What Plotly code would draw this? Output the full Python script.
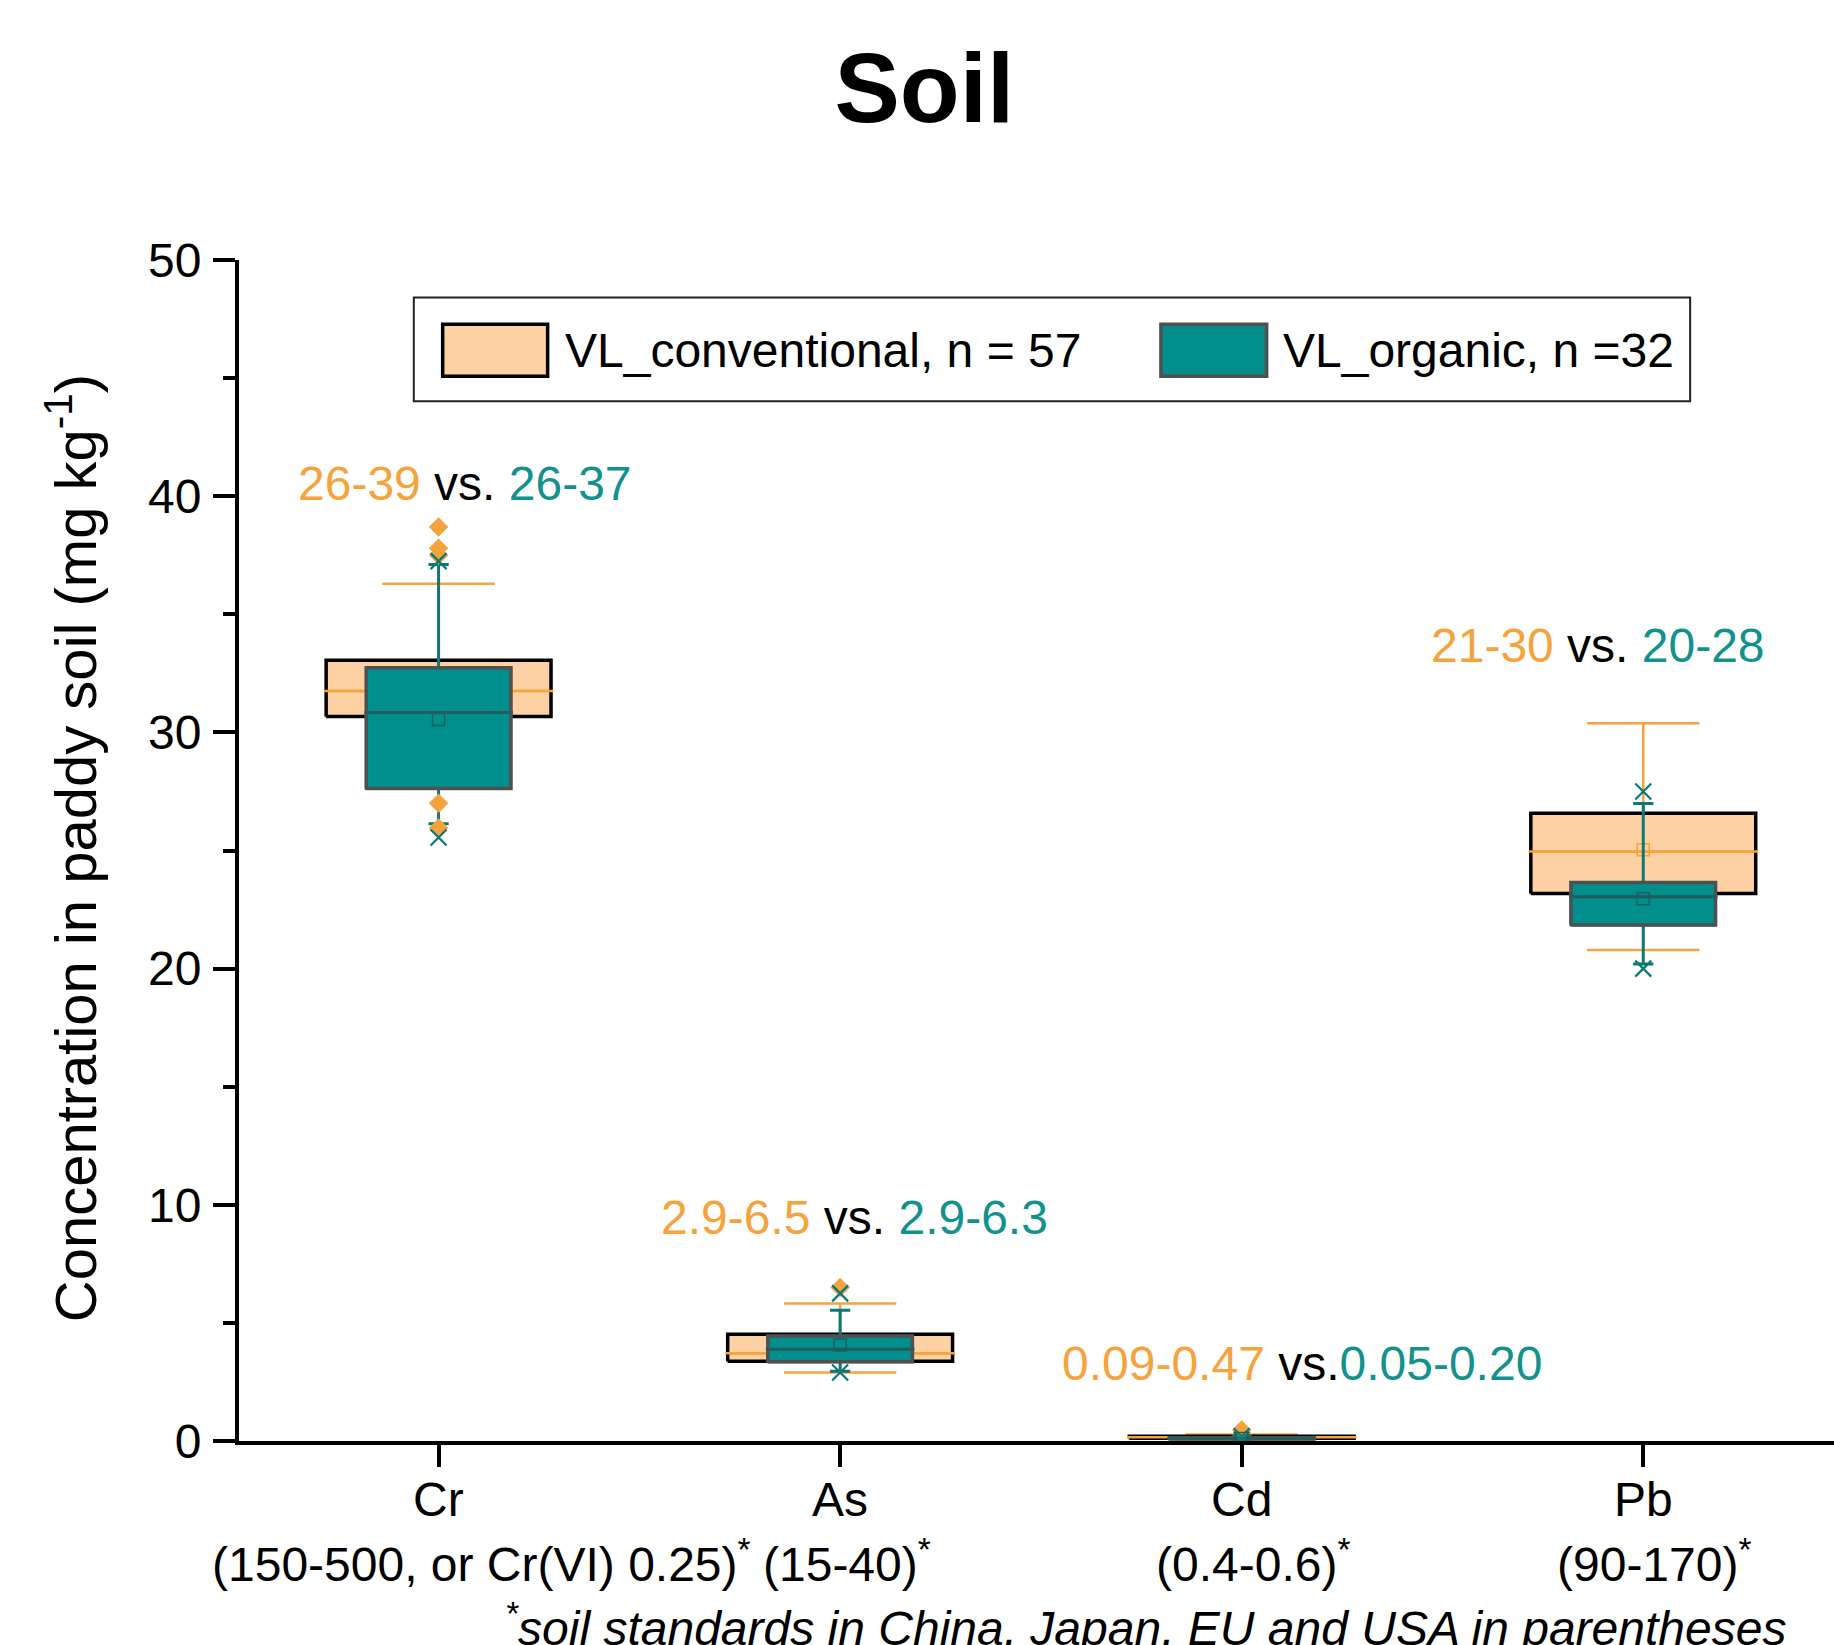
import plotly.graph_objects as go

# ---- data -------------------------------------------------------------
elements = ["Cr", "As", "Cd", "Pb"]
standards = ["(150-500, or Cr(VI) 0.25)<sup>*</sup>", "(15-40)<sup>*</sup>",
             "(0.4-0.6)<sup>*</sup>", "(90-170)<sup>*</sup>"]
positions = [1, 2, 3, 4]

# VL_conventional (n = 57)
conv_q1 = [30.67, 3.38, 0.12, 23.18]
conv_median = [31.75, 3.71, 0.16, 24.96]
conv_q3 = [33.05, 4.52, 0.20, 26.58]
conv_lower = [28.0, 2.90, 0.09, 20.79]
conv_upper = [36.29, 5.82, 0.27, 30.39]
conv_mean = [31.9, 3.95, 0.17, 25.03]
conv_outliers = [[38.7, 37.8, 37.5, 27.0, 25.95], [6.5], [0.47], []]

# VL_organic (n = 32)
org_q1 = [27.62, 3.35, 0.08, 21.85]
org_median = [30.84, 3.88, 0.11, 23.04]
org_q3 = [32.74, 4.45, 0.14, 23.65]
org_lower = [26.13, 2.95, 0.05, 20.2]
org_upper = [37.11, 5.54, 0.20, 26.99]
org_mean = [30.55, 4.06, 0.11, 22.96]
org_extremes = [[25.55, 37.25], [2.9, 6.25], [0.05, 0.20], [20.0, 27.5]]

conv_range = ["26-39", "2.9-6.5", "0.09-0.47", "21-30"]
org_range = ["26-37", "2.9-6.3", "0.05-0.20", "20-28"]
range_sep = [" vs. ", " vs. ", " vs.", " vs. "]

# ---- style ------------------------------------------------------------
FONT = "Liberation Sans, Arial, sans-serif"
ORANGE = "#F5A33D"
PEACH = "#FDD1A3"
TEAL = "#008F8C"
TEAL_LINE = "#0B7A77"
TEAL_DARK = "#215E5D"
TEAL_TEXT = "#13918D"
GRAY = "#505050"
CONV_W, ORG_W = 0.56, 0.36
TXT = 48

# where the range labels sit (x in category units, y in mg/kg)
label_pos = [(1.066, 40.55), (2.035, 9.45), (3.149, 3.30), (3.887, 33.68)]
# horizontal nudge of the standards line under each category
std_shift = [0.108, 0.017, 0.027, 0.027]


def outline(pos, q1, q3, w):
    xs, ys = [], []
    for p, a, b in zip(pos, q1, q3):
        xs += [p - w / 2, p + w / 2, p + w / 2, p - w / 2, p - w / 2, None]
        ys += [a, a, b, b, a, None]
    return xs, ys


def hlines(pos, vals, w):
    xs, ys = [], []
    for p, v in zip(pos, vals):
        xs += [p - w / 2, p + w / 2, None]
        ys += [v, v, None]
    return xs, ys


def flatten(pos, groups):
    xs, ys = [], []
    for p, g in zip(pos, groups):
        xs += [p] * len(g)
        ys += list(g)
    return xs, ys


fig = go.Figure()

# conventional group (bottom layer)
fig.add_trace(go.Box(
    x=positions, q1=conv_q1, median=conv_median, q3=conv_q3,
    lowerfence=conv_lower, upperfence=conv_upper,
    width=CONV_W, whiskerwidth=0.5, fillcolor=PEACH,
    line=dict(color=ORANGE, width=2.5), boxpoints=False,
    name="VL_conventional, n = 57", showlegend=False,
    xaxis="x", yaxis="y"))
ox, oy = outline(positions, conv_q1, conv_q3, CONV_W)
fig.add_trace(go.Scatter(x=ox, y=oy, mode="lines",
                         line=dict(color="black", width=3.5),
                         showlegend=False, hoverinfo="skip",
                         xaxis="x", yaxis="y"))
mx, my = hlines(positions, conv_median, CONV_W + 0.012)
fig.add_trace(go.Scatter(x=mx, y=my, mode="lines",
                         line=dict(color=ORANGE, width=2.5),
                         showlegend=False, hoverinfo="skip",
                         xaxis="x", yaxis="y"))
fig.add_trace(go.Scatter(x=positions, y=conv_mean, mode="markers",
                         marker=dict(symbol="square-open", size=12,
                                     color=ORANGE, line=dict(width=1.5)),
                         showlegend=False, xaxis="x", yaxis="y"))

# organic group (overlaid on top)
fig.add_trace(go.Box(
    x=positions, q1=org_q1, median=org_median, q3=org_q3,
    lowerfence=org_lower, upperfence=org_upper,
    width=ORG_W, whiskerwidth=0.14, fillcolor=TEAL,
    line=dict(color=TEAL_LINE, width=3), boxpoints=False,
    name="VL_organic, n =32", showlegend=False,
    xaxis="x2", yaxis="y2"))
gx, gy = outline(positions, org_q1, org_q3, ORG_W)
fig.add_trace(go.Scatter(x=gx, y=gy, mode="lines",
                         line=dict(color=GRAY, width=3.5),
                         showlegend=False, hoverinfo="skip",
                         xaxis="x2", yaxis="y2"))
nx, ny = hlines(positions, org_median, ORG_W + 0.01)
fig.add_trace(go.Scatter(x=nx, y=ny, mode="lines",
                         line=dict(color=TEAL_DARK, width=3),
                         showlegend=False, hoverinfo="skip",
                         xaxis="x2", yaxis="y2"))
dx, dy = flatten(positions, conv_outliers)
fig.add_trace(go.Scatter(x=dx, y=dy, mode="markers",
                         marker=dict(symbol="diamond", size=15, color=ORANGE),
                         showlegend=False, xaxis="x2", yaxis="y2"))
ex, ey = flatten(positions, org_extremes)
fig.add_trace(go.Scatter(x=ex, y=ey, mode="markers",
                         marker=dict(symbol="x-thin-open", size=16,
                                     color=TEAL_LINE,
                                     line=dict(color=TEAL_LINE, width=2.2)),
                         showlegend=False, xaxis="x2", yaxis="y2"))
fig.add_trace(go.Scatter(x=positions, y=org_mean, mode="markers",
                         marker=dict(symbol="square-open", size=12,
                                     color=TEAL_DARK, line=dict(width=1.5)),
                         showlegend=False, xaxis="x2", yaxis="y2"))

XR = [0.503, 4.475]
YR = [0, 50]
axis_common = dict(showline=True, linecolor="black", linewidth=4,
                   ticks="outside", ticklen=22, tickwidth=3.5,
                   tickcolor="black", showgrid=False, zeroline=False)

annotations = []
# range labels above each pair of boxes
for (lx, ly), a, s, b in zip(label_pos, conv_range, range_sep, org_range):
    annotations.append(dict(
        x=lx, y=ly, xref="x", yref="y", showarrow=False,
        text=(f"<span style='color:{ORANGE}'>{a}</span>"
              f"<span style='color:black'>{s}</span>"
              f"<span style='color:{TEAL_TEXT}'>{b}</span>"),
        font=dict(family=FONT, size=TXT)))
# category labels with soil standards
for p, el, st, sh in zip(positions, elements, standards, std_shift):
    annotations.append(dict(x=p, y=-0.0495, xref="x", yref="paper",
                            text=el, showarrow=False, yanchor="middle",
                            xanchor="center",
                            font=dict(family=FONT, size=TXT, color="black")))
    annotations.append(dict(x=p + sh, y=-0.1015, xref="x", yref="paper",
                            text=st, showarrow=False, yanchor="middle",
                            xanchor="center",
                            font=dict(family=FONT, size=TXT, color="black")))
annotations.append(dict(
    x=0.5685, y=-0.1562, xref="paper", yref="paper", showarrow=False,
    xanchor="center", yanchor="middle",
    text="<i><sup>*</sup>soil standards in China, Japan, EU and USA in parentheses</i>",
    font=dict(family=FONT, size=TXT, color="black")))
# y-axis title
annotations.append(dict(
    x=-0.105, y=0.5015, xref="paper", yref="paper", showarrow=False,
    xanchor="center", yanchor="middle", textangle=-90,
    text="Concentration in paddy soil (mg kg<sup>-1</sup>)",
    font=dict(family=FONT, size=58, color="black")))
# legend labels
annotations.append(dict(x=0.2029, y=0.9235, xref="paper", yref="paper",
                        xanchor="left", yanchor="middle", showarrow=False,
                        text="VL_conventional, n = 57",
                        font=dict(family=FONT, size=TXT, color="black")))
annotations.append(dict(x=0.6535, y=0.9235, xref="paper", yref="paper",
                        xanchor="left", yanchor="middle", showarrow=False,
                        text="VL_organic, n =32",
                        font=dict(family=FONT, size=TXT, color="black")))

shapes = [
    dict(type="rect", xref="paper", yref="paper", x0=0.1096, x1=0.9098,
         y0=0.8803, y1=0.9683, line=dict(color="#222", width=2),
         fillcolor="white", layer="above"),
    dict(type="rect", xref="paper", yref="paper", x0=0.1277, x1=0.1935,
         y0=0.9015, y1=0.9455, line=dict(color="black", width=3.5),
         fillcolor=PEACH, layer="above"),
    dict(type="rect", xref="paper", yref="paper", x0=0.5780, x1=0.6443,
         y0=0.9015, y1=0.9455, line=dict(color=GRAY, width=3.5),
         fillcolor=TEAL, layer="above"),
]

fig.update_layout(
    width=1834, height=1645,
    margin=dict(l=239, r=0, t=260, b=204),
    paper_bgcolor="white", plot_bgcolor="white",
    font=dict(family=FONT, color="black"),
    title=dict(text="<b>Soil</b>", x=0.504, xref="container", xanchor="center",
               y=0.9465, yref="container", yanchor="middle",
               font=dict(family=FONT, size=98, color="black")),
    xaxis=dict(range=XR, tickvals=positions, showticklabels=False, **axis_common),
    yaxis=dict(range=YR, tickvals=[0, 10, 20, 30, 40, 50],
               tickfont=dict(family=FONT, size=TXT, color="black"),
               ticklabelstandoff=2,
               minor=dict(tickvals=[5, 15, 25, 35, 45], ticks="outside",
                          ticklen=12, tickwidth=3.5, tickcolor="black"),
               **axis_common),
    xaxis2=dict(range=XR, overlaying="x", visible=False),
    yaxis2=dict(range=YR, overlaying="y", visible=False),
    showlegend=False,
    annotations=annotations, shapes=shapes,
)

fig.write_html("out.html")
